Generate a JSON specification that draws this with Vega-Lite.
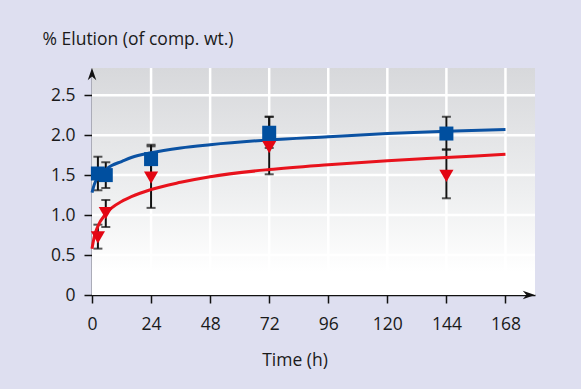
{
  "$schema": "https://vega.github.io/schema/vega-lite/v6.json",
  "width": 443,
  "height": 227,
  "autosize": "none",
  "padding": {"left": 92, "top": 68, "right": 46, "bottom": 94},
  "background": "#dedff0",
  "config": {
    "view": {"stroke": null},
    "axis": {
      "labelFont": "Open Sans",
      "labelFontSize": 17.5,
      "labelColor": "#1a1a1a",
      "labelFlush": false,
      "titleFont": "Open Sans",
      "titleFontSize": 17.5,
      "titleFontWeight": "normal",
      "titleColor": "#1a1a1a",
      "domainColor": "#111111",
      "domainWidth": 1.5,
      "tickColor": "#111111",
      "tickWidth": 1.5,
      "tickSize": 8,
      "grid": false
    }
  },
  "datasets": {
    "curves": [
      {"s": "blue", "t": 0, "v": 1.28}, {"s": "blue", "t": 1, "v": 1.39}, {"s": "blue", "t": 2, "v": 1.45},
      {"s": "blue", "t": 3, "v": 1.49}, {"s": "blue", "t": 4, "v": 1.53}, {"s": "blue", "t": 6, "v": 1.58},
      {"s": "blue", "t": 8, "v": 1.62}, {"s": "blue", "t": 12, "v": 1.67}, {"s": "blue", "t": 16, "v": 1.72},
      {"s": "blue", "t": 24, "v": 1.78}, {"s": "blue", "t": 36, "v": 1.84}, {"s": "blue", "t": 48, "v": 1.88},
      {"s": "blue", "t": 72, "v": 1.94}, {"s": "blue", "t": 96, "v": 1.98}, {"s": "blue", "t": 120, "v": 2.02},
      {"s": "blue", "t": 144, "v": 2.05}, {"s": "blue", "t": 168, "v": 2.07},
      {"s": "red", "t": 0, "v": 0.58}, {"s": "red", "t": 1, "v": 0.74}, {"s": "red", "t": 2, "v": 0.83},
      {"s": "red", "t": 3, "v": 0.9}, {"s": "red", "t": 4, "v": 0.95}, {"s": "red", "t": 6, "v": 1.03},
      {"s": "red", "t": 8, "v": 1.09}, {"s": "red", "t": 12, "v": 1.17}, {"s": "red", "t": 16, "v": 1.23},
      {"s": "red", "t": 24, "v": 1.32}, {"s": "red", "t": 36, "v": 1.41}, {"s": "red", "t": 48, "v": 1.48},
      {"s": "red", "t": 72, "v": 1.57}, {"s": "red", "t": 96, "v": 1.63}, {"s": "red", "t": 120, "v": 1.68},
      {"s": "red", "t": 144, "v": 1.72}, {"s": "red", "t": 168, "v": 1.76}
    ],
    "points": [
      {"s": "blue", "t": 2.4, "v": 1.52, "lo": 1.31, "hi": 1.73},
      {"s": "blue", "t": 5.6, "v": 1.5, "lo": 1.34, "hi": 1.66},
      {"s": "blue", "t": 24, "v": 1.7, "lo": 1.52, "hi": 1.88},
      {"s": "blue", "t": 72, "v": 2.03, "lo": 1.84, "hi": 2.23},
      {"s": "blue", "t": 144, "v": 2.02, "lo": 1.82, "hi": 2.23},
      {"s": "red", "t": 2.4, "v": 0.72, "lo": 0.58, "hi": 0.88},
      {"s": "red", "t": 5.6, "v": 1.025, "lo": 0.85, "hi": 1.19},
      {"s": "red", "t": 24, "v": 1.47, "lo": 1.09, "hi": 1.86},
      {"s": "red", "t": 72, "v": 1.85, "lo": 1.51, "hi": 2.23},
      {"s": "red", "t": 144, "v": 1.49, "lo": 1.21, "hi": 1.82}
    ],
    "gridx": [{"t": 24}, {"t": 48}, {"t": 72}, {"t": 96}, {"t": 120}, {"t": 144}, {"t": 168}],
    "gridy": [{"v": 0.5}, {"v": 1.0}, {"v": 1.5}, {"v": 2.0}, {"v": 2.5}],
    "arrows": [{"t": 0, "v": 2.84, "dir": "up"}, {"t": 180, "v": 0, "dir": "right"}]
  },
  "layer": [
    {
      "data": {"values": [{}]},
      "mark": {
        "type": "rect",
        "fill": {
          "gradient": "linear", "x1": 0, "y1": 0, "x2": 0, "y2": 1,
          "stops": [
            {"offset": 0, "color": "#d7d8db"},
            {"offset": 0.55, "color": "#eeeff0"},
            {"offset": 0.9, "color": "#ffffff"},
            {"offset": 1, "color": "#ffffff"}
          ]
        }
      },
      "encoding": {
        "x": {"value": 0}, "x2": {"value": "width"},
        "y": {"value": 0}, "y2": {"value": "height"}
      }
    },
    {
      "data": {"name": "gridx"},
      "mark": {"type": "rule", "color": "#ffffff", "strokeWidth": 2.5},
      "encoding": {
        "x": {"field": "t", "type": "quantitative", "title": "Time (h)", "scale": {"domain": [0, 180], "nice": false}}
      }
    },
    {
      "data": {"name": "gridy"},
      "mark": {"type": "rule", "color": "#ffffff", "strokeWidth": 2.5},
      "encoding": {
        "y": {"field": "v", "type": "quantitative", "title": "% Elution (of comp. wt.)", "scale": {"domain": [0, 2.84], "nice": false}}
      }
    },
    {
      "data": {"name": "points"},
      "mark": {"type": "errorbar", "ticks": true, "size": 9, "thickness": 2, "color": "#111111"},
      "encoding": {
        "x": {"field": "t", "type": "quantitative", "title": "Time (h)", "scale": {"domain": [0, 180], "nice": false}},
        "y": {"field": "lo", "type": "quantitative", "title": "% Elution (of comp. wt.)", "scale": {"domain": [0, 2.84], "nice": false}},
        "y2": {"field": "hi"}
      }
    },
    {
      "data": {"name": "curves"},
      "mark": {"type": "line", "strokeWidth": 3, "interpolate": "monotone"},
      "encoding": {
        "x": {
          "field": "t", "type": "quantitative", "title": "Time (h)",
          "scale": {"domain": [0, 180], "nice": false},
          "axis": {
            "values": [0, 24, 48, 72, 96, 120, 144, 168],
            "labelPadding": 12,
            "titleX": 202.5, "titleY": 70, "titleAlign": "center", "titleBaseline": "alphabetic"
          }
        },
        "y": {
          "field": "v", "type": "quantitative", "title": "% Elution (of comp. wt.)",
          "scale": {"domain": [0, 2.84], "nice": false},
          "axis": {
            "values": [0, 0.5, 1, 1.5, 2, 2.5],
            "labelExpr": "datum.value == 0 ? '0' : format(datum.value, '.1f')",
            "labelPadding": 9,
            "titleAngle": 0, "titleX": -50, "titleY": -24, "titleAlign": "left", "titleBaseline": "alphabetic"
          }
        },
        "color": {"field": "s", "type": "nominal", "scale": {"domain": ["blue", "red"], "range": ["#0b52a3", "#e8121c"]}, "legend": null}
      }
    },
    {
      "data": {"name": "points"},
      "transform": [{"filter": "datum.s == 'blue'"}],
      "mark": {"type": "point", "shape": "square", "filled": true, "size": 196, "color": "#004f9f", "opacity": 1},
      "encoding": {
        "x": {"field": "t", "type": "quantitative", "scale": {"domain": [0, 180], "nice": false}},
        "y": {"field": "v", "type": "quantitative", "scale": {"domain": [0, 2.84], "nice": false}}
      }
    },
    {
      "data": {"name": "points"},
      "transform": [{"filter": "datum.s == 'red'"}],
      "mark": {"type": "point", "shape": "triangle-down", "filled": true, "size": 200, "color": "#e30613", "opacity": 1},
      "encoding": {
        "x": {"field": "t", "type": "quantitative", "scale": {"domain": [0, 180], "nice": false}},
        "y": {"field": "v", "type": "quantitative", "scale": {"domain": [0, 2.84], "nice": false}}
      }
    },
    {
      "data": {"name": "arrows"},
      "mark": {"type": "point", "filled": true, "size": 150, "color": "#111111", "opacity": 1},
      "encoding": {
        "x": {"field": "t", "type": "quantitative", "scale": {"domain": [0, 180], "nice": false}},
        "y": {"field": "v", "type": "quantitative", "scale": {"domain": [0, 2.84], "nice": false}},
        "shape": {
          "field": "dir", "type": "nominal", "legend": null,
          "scale": {"domain": ["up", "right"], "range": ["M0,0 L0.7,2 L0,1.4 L-0.7,2 Z", "M0,0 L-2,-0.7 L-1.4,0 L-2,0.7 Z"]}
        }
      }
    }
  ]
}
